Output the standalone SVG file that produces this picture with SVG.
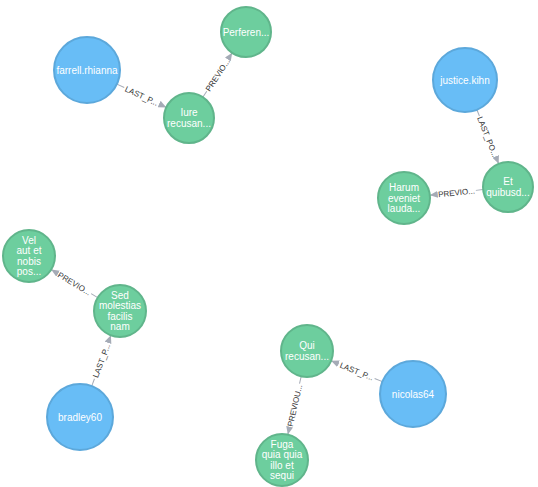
<svg xmlns="http://www.w3.org/2000/svg" width="538" height="487" viewBox="0 0 538 487">
<style>
.bg{fill:#ffffff}
.user circle{fill:#68BDF6;stroke:#5CA8DB;stroke-width:2}
.post circle{fill:#6DCE9E;stroke:#60B58B;stroke-width:2}
.node text{fill:#ffffff;font-family:"Liberation Sans",Arial,sans-serif;font-size:10px;text-anchor:middle}
.edge line{stroke:#A5ABB6;stroke-width:1}
.edge text{fill:#333333;font-family:"Liberation Sans",Arial,sans-serif;font-size:8px;text-anchor:middle}
</style>
<defs>
<marker id="arr" markerUnits="userSpaceOnUse" markerWidth="8" markerHeight="7" refX="8" refY="3.5" orient="auto">
<path d="M0,0 L8,3.5 L0,7 z" fill="#A5ABB6"/>
</marker>
</defs>
<rect class="bg" width="538" height="487"/>
<g id="connectors">
<g class="edge" transform="translate(116.9,84.1) rotate(25.2)">
<line x1="0" y1="0" x2="8.1" y2="0"/><line x1="46.6" y1="0" x2="54.7" y2="0" marker-end="url(#arr)"/>
<text x="27.35" y="3">LAST_P...</text></g>
<g class="edge" transform="translate(202.8,97.2) rotate(-56.5)">
<line x1="0" y1="0" x2="7.2" y2="0"/><line x1="46.1" y1="0" x2="53.3" y2="0" marker-end="url(#arr)"/>
<text x="26.65" y="3">PREVIO...</text></g>
<g class="edge" transform="translate(476.9,109.7) rotate(68.1)">
<line x1="0" y1="0" x2="6.8" y2="0"/><line x1="51.5" y1="0" x2="58.3" y2="0" marker-end="url(#arr)"/>
<text x="29.15" y="3">LAST_PO...</text></g>
<g class="edge" transform="translate(483.2,189.6) rotate(174)">
<line x1="0" y1="0" x2="7.4" y2="0"/><line x1="46.3" y1="0" x2="53.7" y2="0" marker-end="url(#arr)"/>
<text x="26.85" y="3" transform="rotate(180 26.85 0)">PREVIO...</text></g>
<g class="edge" transform="translate(91.7,386.1) rotate(-69.3)">
<line x1="0" y1="0" x2="7.9" y2="0"/><line x1="46.4" y1="0" x2="54.3" y2="0" marker-end="url(#arr)"/>
<text x="27.15" y="3">LAST_P...</text></g>
<g class="edge" transform="translate(97.7,297.6) rotate(-148.9)">
<line x1="0" y1="0" x2="7.7" y2="0"/><line x1="46.6" y1="0" x2="54.3" y2="0" marker-end="url(#arr)"/>
<text x="27.15" y="3" transform="rotate(180 27.15 0)">PREVIO...</text></g>
<g class="edge" transform="translate(382.4,381.6) rotate(-157.9)">
<line x1="0" y1="0" x2="8.4" y2="0"/><line x1="47" y1="0" x2="55.4" y2="0" marker-end="url(#arr)"/>
<text x="27.7" y="3" transform="rotate(180 27.7 0)">LAST_P...</text></g>
<g class="edge" transform="translate(301.2,376.3) rotate(102.9)">
<line x1="0" y1="0" x2="7.5" y2="0"/><line x1="52.2" y1="0" x2="59.7" y2="0" marker-end="url(#arr)"/>
<text x="29.85" y="3" transform="rotate(180 29.85 0)">PREVIOU...</text></g>
</g>
<g id="n-farrell" class="node user"><circle cx="87" cy="70" r="33"/><text x="87" y="73.5">farrell.rhianna</text></g>
<g id="n-perferen" class="node post"><circle cx="246" cy="32" r="25"/><text x="246" y="35.5">Perferen...</text></g>
<g id="n-iure" class="node post"><circle cx="189" cy="118" r="25"/><text x="189" y="116.2">Iure</text><text x="189" y="126.7">recusan...</text></g>
<g id="n-justice" class="node user"><circle cx="465" cy="80" r="32"/><text x="465" y="83.5">justice.kihn</text></g>
<g id="n-et" class="node post"><circle cx="508" cy="187" r="25"/><text x="508" y="185.2">Et</text><text x="508" y="195.7">quibusd...</text></g>
<g id="n-harum" class="node post"><circle cx="404" cy="198" r="26"/><text x="404" y="191">Harum</text><text x="404" y="201.5">eveniet</text><text x="404" y="212">lauda...</text></g>
<g id="n-vel" class="node post"><circle cx="29" cy="256" r="26"/><text x="29" y="243.7">Vel</text><text x="29" y="254.2">aut et</text><text x="29" y="264.7">nobis</text><text x="29" y="275.2">pos...</text></g>
<g id="n-sed" class="node post"><circle cx="120" cy="311" r="26"/><text x="120" y="298.7">Sed</text><text x="120" y="309.2">molestias</text><text x="120" y="319.7">facilis</text><text x="120" y="330.2">nam</text></g>
<g id="n-bradley" class="node user"><circle cx="80" cy="417" r="33"/><text x="80" y="420.5">bradley60</text></g>
<g id="n-qui" class="node post"><circle cx="307" cy="351" r="26"/><text x="307" y="349.2">Qui</text><text x="307" y="359.7">recusan...</text></g>
<g id="n-nicolas" class="node user"><circle cx="413" cy="394" r="33"/><text x="413" y="397.5">nicolas64</text></g>
<g id="n-fuga" class="node post"><circle cx="282" cy="460" r="26"/><text x="282" y="447.7">Fuga</text><text x="282" y="458.2">quia quia</text><text x="282" y="468.7">illo et</text><text x="282" y="479.2">sequi</text></g>
</svg>
